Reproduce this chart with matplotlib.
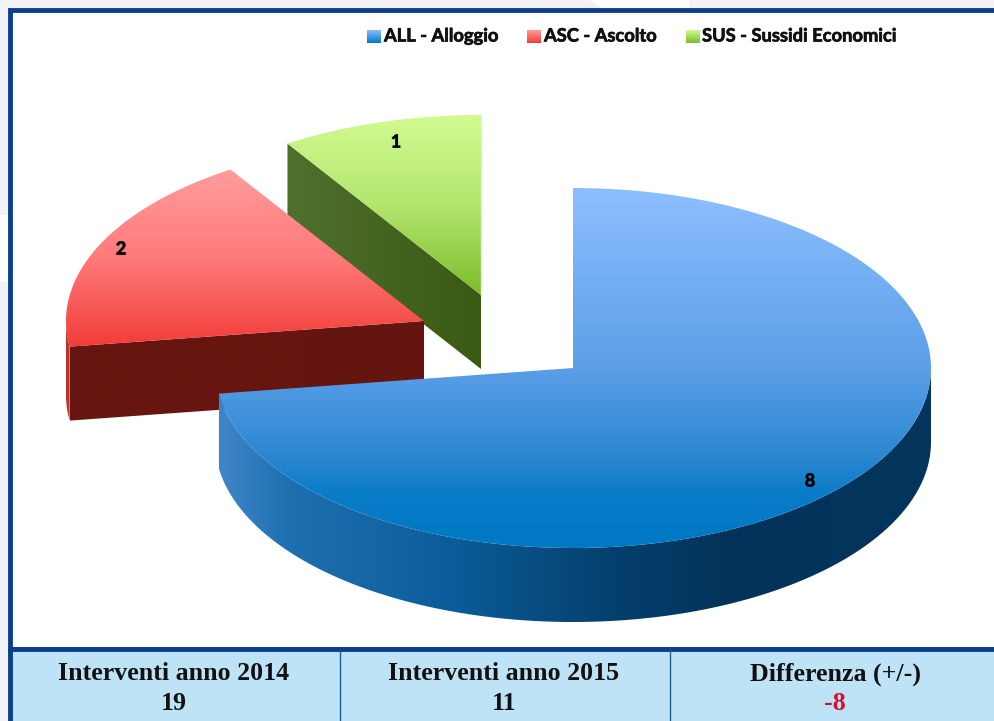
import matplotlib
matplotlib.use('Agg')
import matplotlib.pyplot as plt
import matplotlib.patheffects as pe
import numpy as np
from matplotlib.colors import LinearSegmentedColormap
from matplotlib.patches import Polygon, Rectangle

# dati
categorie = ['ALL - Alloggio', 'ASC - Ascolto', 'SUS - Sussidi Economici']
valori = [8, 2, 1]
titoli_tabella = ['Interventi anno 2014', 'Interventi anno 2015', 'Differenza (+/-)']
valori_tabella = ['19', '11', '-8']

# stile fette: centro, gradiente sopra, gradiente lato
centri = [(573, 368), (424, 321), (481, 295)]
col_sopra = [[(0, '#8cbfff'), (0.5, '#5b9fe8'), (0.75, '#2a86d0'), (0.85, '#0a7cc8'), (1, '#0078c4')],
             ['#ff9c9c', '#ff7a7a', '#f23c38'],
             ['#d0fb90', '#b4e66e', '#7cbc2c']]
col_lato = [[(0, '#3f86c8'), (0.1, '#1d6fb0'), (0.32, '#0b5d9a'), (0.55, '#05406e'), (0.72, '#03335a'), (1, '#03355c')],
            ['#681610', '#651510'],
            ['#50702e', '#385a12']]
RX, RY, DEPTH = 358, 180, 74

fig = plt.figure(figsize=(9.95, 7.21), dpi=100)
fig.patch.set_facecolor('#f2f2f8')
ax = fig.add_axes([0, 0, 1, 1])
ax.axis('off')


def arco(c, a0, a1, dy=0, n=200):
    # angoli in senso orario da ore 12
    t = np.radians(np.linspace(a0, a1, n))
    return np.column_stack([c[0] + RX * np.sin(t), c[1] - RY * np.cos(t) + dy])


def gradiente(colori, box, path_xy, verticale=True, z=2):
    cmap = LinearSegmentedColormap.from_list('g', colori)
    g = np.linspace(0, 1, 256)
    g = g.reshape(-1, 1) if verticale else g.reshape(1, -1)
    im = ax.imshow(g, cmap=cmap, extent=(box[0], box[1], box[3], box[2]), aspect='auto',
                   origin='upper', zorder=z, interpolation='bilinear')
    clip = Polygon(path_xy, closed=True, transform=ax.transData, fc='none', ec='none')
    ax.add_patch(clip)
    im.set_clip_path(clip)


# pezzi bianchi dello sfondo
ax.add_patch(Polygon([(590, 0), (689, 0), (689, 9), (602, 9)], fc='white', ec='none', zorder=0.5))
ax.add_patch(Rectangle((0, 215), 9, 67, fc='white', ec='none', zorder=0.5))

# cornice e sfondo bianco
ax.add_patch(Rectangle((10, 10), 990, 639, fc='white', ec='#0b3f8a', lw=3.5, zorder=1))
ax.add_patch(Rectangle((10, 649), 990, 80, fc='#bee3f7', ec='#0b3f8a', lw=3.5, zorder=1))
for xd in [340, 670]:
    ax.plot([xd, xd], [650, 721], color='#1a5aa0', lw=1, zorder=1.5)

# angoli delle fette dai valori
cum = np.cumsum([0] + valori) / sum(valori) * 360
# ordine di disegno: verde, rosso, blu
for i in [2, 1, 0]:
    c = centri[i]
    a0, a1 = cum[i], cum[i + 1]
    sopra = np.vstack([[c], arco(c, a0, a1)])
    if i == 0:
        # lato curvo visibile sul davanti
        lato = np.vstack([arco(c, 90, a1), arco(c, a1, 90, DEPTH)])
    else:
        # faccia piana verso il centro
        p = arco(c, a0, a0 + 0.01, n=2)[0]
        lato = np.array([c, p, (p[0], p[1] + DEPTH), (c[0], c[1] + DEPTH)])
    xs, ys = lato[:, 0], lato[:, 1]
    gradiente(col_lato[i], (xs.min(), xs.max(), ys.min(), ys.max()), lato, verticale=False, z=2 + (2 - i))
    if i == 1:
        # bordino curvo a sinistra
        bordo = np.vstack([arco(c, a0, 270, n=30), arco(c, 270, a0, DEPTH, n=30)])
        ax.add_patch(Polygon(bordo, fc='#b5342c', ec='none', zorder=2 + (2 - i)))
    if i == 2:
        # filo chiaro sul bordo destro
        ax.plot([c[0], c[0]], [c[1] - RY, c[1]], color='#e4efd2', lw=1, zorder=2.6)
    xs, ys = sopra[:, 0], sopra[:, 1]
    ymax = c[1] + RY if i == 0 else ys.max()
    gradiente(col_sopra[i], (xs.min(), xs.max(), ys.min(), ymax), sopra, z=2.5 + (2 - i))

grassetto = [pe.withStroke(linewidth=0.5, foreground='#111111')]

# etichette dei valori
pos_etichette = [(810, 481), (121, 249), (396, 142)]
for v, (xe, ye) in zip(valori, pos_etichette):
    ax.text(xe, ye, str(v), family='Lato', weight='bold', fontsize=13, color='black',
            ha='center', va='center', zorder=10, path_effects=grassetto)

# legenda
pos_legenda = [(367, 384), (527, 544), (686, 702)]
col_legenda = [['#8cbfff', '#0078c4'], ['#ff9c9c', '#f23c38'], ['#d0fb90', '#7cbc2c']]
for nome, (xq, xt), cl in zip(categorie, pos_legenda, col_legenda):
    q = [(xq, 30), (xq + 14, 30), (xq + 14, 43), (xq, 43)]
    gradiente(cl, (xq, xq + 14, 30, 43), q, z=9)
    ax.text(xt, 36, nome, family='Lato', weight='bold', fontsize=13.2, color='#111111',
            ha='left', va='center', zorder=10, path_effects=grassetto)

# tabella
for xc, tit, val in zip([174, 504, 835], titoli_tabella, valori_tabella):
    ax.text(xc, 674, tit, family='Liberation Serif', weight='bold', fontsize=18.6, color='#111111',
            ha='center', va='center', zorder=10)
    ax.text(xc, 703, val, family='Liberation Serif', weight='bold', fontsize=18.6,
            color='#d4102c' if val.startswith('-') else '#111111',
            ha='center', va='center', zorder=10)

ax.set_xlim(0, 995)
ax.set_ylim(721, 0)
fig.savefig('out.png', dpi=100, facecolor=fig.get_facecolor())
